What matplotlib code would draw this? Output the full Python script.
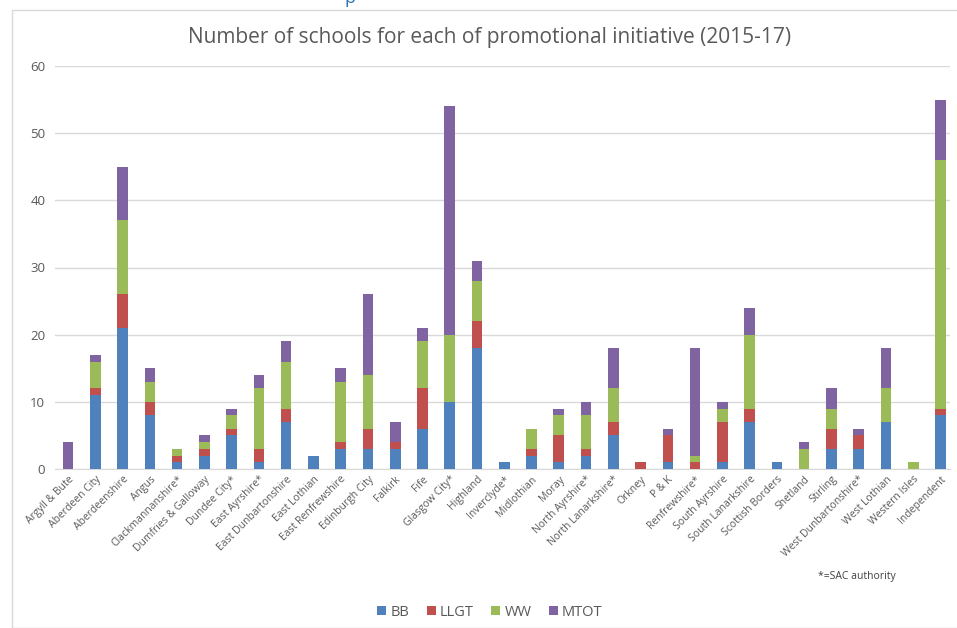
import numpy as np
import matplotlib
matplotlib.use("Agg")
import matplotlib.pyplot as plt
from matplotlib.patches import Rectangle

plt.rcParams['font.family'] = ['Open Sans', 'DejaVu Sans']

authorities = [
    "Argyll & Bute", "Aberdeen City", "Aberdeenshire", "Angus", "Clackmannanshire*",
    "Dumfries & Galloway", "Dundee City*", "East Ayrshire*", "East Dunbartonshire",
    "East Lothian", "East Renfrewshire", "Edinburgh City", "Falkirk", "Fife",
    "Glasgow City*", "Highland", "Inverclyde*", "Midlothian", "Moray",
    "North Ayrshire*", "North Lanarkshire*", "Orkney", "P & K", "Renfrewshire*",
    "South Ayrshire", "South Lanarkshire", "Scottish Borders", "Shetland", "Stirling",
    "West Dunbartonshire*", "West Lothian", "Western Isles", "Independent",
]
bb = [0, 11, 21, 8, 1, 2, 5, 1, 7, 2, 3, 3, 3, 6, 10, 18, 1, 2, 1, 2, 5, 0, 1, 0, 1, 7, 1, 0, 3, 3, 7, 0, 8]
llgt = [0, 1, 5, 2, 1, 1, 1, 2, 2, 0, 1, 3, 1, 6, 0, 4, 0, 1, 4, 1, 2, 1, 4, 1, 6, 2, 0, 0, 3, 2, 0, 0, 1]
ww = [0, 4, 11, 3, 1, 1, 2, 9, 7, 0, 9, 8, 0, 7, 10, 6, 0, 3, 3, 5, 5, 0, 0, 1, 2, 11, 0, 3, 3, 0, 5, 1, 37]
mtot = [4, 1, 8, 2, 0, 1, 1, 2, 3, 0, 2, 12, 3, 2, 34, 3, 0, 0, 1, 2, 6, 0, 1, 16, 1, 4, 0, 1, 3, 1, 6, 0, 9]

series = [("BB", bb, "#4F81BD"), ("LLGT", llgt, "#C0504D"),
          ("WW", ww, "#9BBB59"), ("MTOT", mtot, "#8064A2")]

W, H = 957, 628
fig = plt.figure(figsize=(W / 100, H / 100), dpi=100)

# light frame around the chart
fig.patches.append(Rectangle((12 / W, 0), 1.0, (H - 10) / H, transform=fig.transFigure,
                             fill=False, edgecolor="#D9D9D9", linewidth=1.0))
# clipped heading fragment at the very top (cut off in the source too)
fig.text(345 / W, 1.0 + 2 / H, "p", color="#2E75B6", fontsize=13, ha="left", va="center")

ax = fig.add_axes([55 / W, (H - 469) / H, (950 - 55) / W, (469 - 66) / H])
x = np.arange(len(authorities))
bottom = np.zeros(len(authorities))
for name, vals, col in series:
    vals = np.array(vals, dtype=float)
    ax.bar(x, vals, width=0.39, bottom=bottom, color=col, label=name, zorder=3)
    bottom += vals

ax.set_xlim(-0.48, 32.35)
ax.set_ylim(0, 60)
ax.set_yticks(range(0, 61, 10))
ax.grid(axis="y", color="#D9D9D9", linewidth=1.0, zorder=0)
for s in ["top", "right", "left"]:
    ax.spines[s].set_visible(False)
ax.spines["bottom"].set_color("#D9D9D9")
ax.tick_params(axis="both", length=0, colors="#595959", labelsize=9.5)
ax.tick_params(axis="y", pad=7)
ax.set_xticks(x)
ax.set_xticklabels(authorities, rotation=45, ha="right", rotation_mode="anchor", fontsize=7.5)

fig.text(490 / W, (H - 37) / H, "Number of schools for each of promotional initiative (2015-17)",
         ha="center", va="center", fontsize=15, color="#595959")
fig.text(818 / W, (H - 577) / H, "*=SAC authority", ha="left", va="center",
         fontsize=7.5, color="#404040")

fig.legend(loc="center", bbox_to_anchor=(490 / W, (H - 612) / H), ncol=4, frameon=False,
           fontsize=10.5, handlelength=0.6, handleheight=0.6, columnspacing=1.2,
           handletextpad=0.3, labelcolor="#595959")

fig.savefig("out.png", dpi=100)
